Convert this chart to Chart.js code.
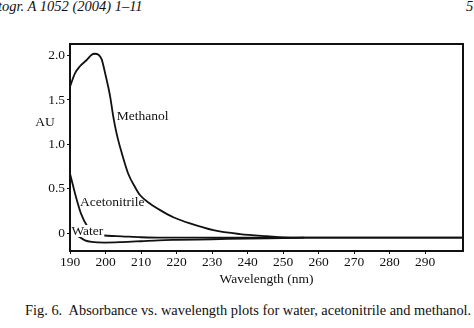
<!DOCTYPE html>
<html>
<head>
<meta charset="utf-8">
<script src="https://cdn.jsdelivr.net/npm/chart.js@4/dist/chart.umd.min.js"></script>
<style>
  body { margin: 0; background: #fff; width: 474px; height: 328px; overflow: hidden; position: relative; font-family: "Liberation Serif", serif; color: #111; }
  #wrap { position: absolute; left: 0; top: 0; width: 474px; height: 295px; }
  .head { position: absolute; top: -2px; font-style: italic; font-size: 14.5px; white-space: nowrap; }
  #caption { position: absolute; left: 25px; top: 302px; font-size: 14.4px; white-space: nowrap; }
</style>
</head>
<body>
<div class="head" style="left:-2px">togr. A 1052 (2004) 1–11</div>
<div class="head" style="left:466px">5</div>
<div id="wrap"><canvas id="absChart"></canvas></div>
<div id="caption">Fig. 6.&nbsp; Absorbance vs. wavelength plots for water, acetonitrile and methanol.</div>
<script>
  // wavelength (nm) / absorbance (AU)
  var methanolNm = [190, 191.4, 192.8, 194.7, 196.1, 197.0, 198.0, 198.9, 199.9, 201.3, 202.2, 203.2, 204.6, 206.4, 208.3, 209.7, 212.5, 215.4, 219.1, 223.8, 230.4, 237.9, 245.4, 252, 300.7];
  var methanolAU = [1.65, 1.80, 1.88, 1.95, 2.01, 2.02, 2.01, 1.96, 1.80, 1.54, 1.31, 1.11, 0.90, 0.67, 0.52, 0.43, 0.335, 0.26, 0.18, 0.11, 0.034, -0.01, -0.034, -0.05, -0.05];

  var acetonitrileNm = [190, 190.7, 191.4, 192.2, 193.1, 194.7, 196.5, 198.9, 204.6, 210, 216, 300.7];
  var acetonitrileAU = [0.67, 0.56, 0.45, 0.335, 0.22, 0.09, 0.02, -0.02, -0.035, -0.045, -0.05, -0.05];

  var waterNm = [190, 190.5, 192.3, 194.2, 196.1, 199.9, 204.6, 210, 215, 220, 230, 240, 250, 256];
  var waterAU = [0.04, 0.015, -0.034, -0.08, -0.098, -0.105, -0.10, -0.09, -0.08, -0.075, -0.068, -0.06, -0.054, -0.05];

  var xTicks = [190, 200, 210, 220, 230, 240, 250, 260, 270, 280, 290];
  var yTicks = [0, 0.5, 1.0, 1.5, 2.0];

  // curve labels, placed in data coordinates
  var curveLabels = [
    { text: "Methanol", x: 203.2, y: 1.31, bg: false },
    { text: "Acetonitrile", x: 192.8, y: 0.35, bg: false },
    { text: "Water", x: 190.4, y: 0.025, bg: true },
  ];

  function toPoints(xs, ys) {
    return xs.map(function (x, i) { return { x: x, y: ys[i] }; });
  }

  var serif = "'Liberation Serif', 'Times New Roman', serif";
  Chart.defaults.font.family = serif;
  Chart.defaults.color = "#111";

  function curve(label, xs, ys) {
    return {
      label: label,
      data: toPoints(xs, ys),
      borderColor: "#111",
      borderWidth: 1.8,
      pointRadius: 0,
      tension: 0.4,
      cubicInterpolationMode: "monotone",
      fill: false,
    };
  }

  // frame, "AU" and the curve names
  var decorations = {
    id: "decorations",
    afterDatasetsDraw: function (chart) {
      var c = chart.ctx, a = chart.chartArea;
      var xs = chart.scales.x, ys = chart.scales.y;
      c.save();
      c.font = "13.5px " + serif;
      c.textBaseline = "middle";
      curveLabels.forEach(function (l) {
        var px = xs.getPixelForValue(l.x), py = ys.getPixelForValue(l.y);
        var w = c.measureText(l.text).width;
        if (l.bg) {
          c.fillStyle = "#fff";
          c.fillRect(px - 1, py - 6, w + 2, 12);
        }
        c.fillStyle = "#111";
        c.textAlign = "left";
        c.fillText(l.text, px, py);
      });
      c.textAlign = "center";
      c.fillText("AU", a.left - 25, ys.getPixelForValue(1.25));
      c.strokeStyle = "#111";
      c.lineWidth = 2;
      c.strokeRect(a.left, a.top, a.right - a.left, a.bottom - a.top);
      c.restore();
    },
  };

  var ctx = document.getElementById("absChart").getContext("2d");
  var absChart = new Chart(ctx, {
    type: "line",
    data: {
      datasets: [
        curve("Methanol", methanolNm, methanolAU),
        curve("Acetonitrile", acetonitrileNm, acetonitrileAU),
        curve("Water", waterNm, waterAU),
      ],
    },
    options: {
      responsive: true,
      maintainAspectRatio: false,
      animation: false,
      layout: { padding: { left: 0, top: 44, right: 11, bottom: 0 } },
      plugins: { legend: { display: false }, tooltip: { enabled: false } },
      scales: {
        x: {
          type: "linear",
          min: 190,
          max: 300.7,
          afterBuildTicks: function (scale) {
            scale.ticks = xTicks.map(function (v) { return { value: v }; });
          },
          afterFit: function (scale) { scale.height = 44; },
          grid: { drawOnChartArea: false, tickLength: 3, color: "#111", tickWidth: 1 },
          border: { color: "#111", width: 2 },
          ticks: { font: { size: 13.5 }, padding: 0, maxRotation: 0 },
          title: { display: true, text: "Wavelength (nm)", font: { size: 13.5 }, padding: { top: 0, bottom: 7 } },
        },
        y: {
          min: -0.2,
          max: 2.13,
          afterBuildTicks: function (scale) {
            scale.ticks = yTicks.map(function (v) { return { value: v }; });
          },
          afterFit: function (scale) { scale.width = 70; },
          grid: { drawOnChartArea: false, tickLength: 3, color: "#111", tickWidth: 1 },
          border: { color: "#111", width: 2 },
          ticks: {
            font: { size: 13.5 },
            padding: 2,
            callback: function (v) { return v === 0 ? "0" : v.toFixed(1); },
          },
        },
      },
    },
    plugins: [decorations],
  });
</script>
</body>
</html>
